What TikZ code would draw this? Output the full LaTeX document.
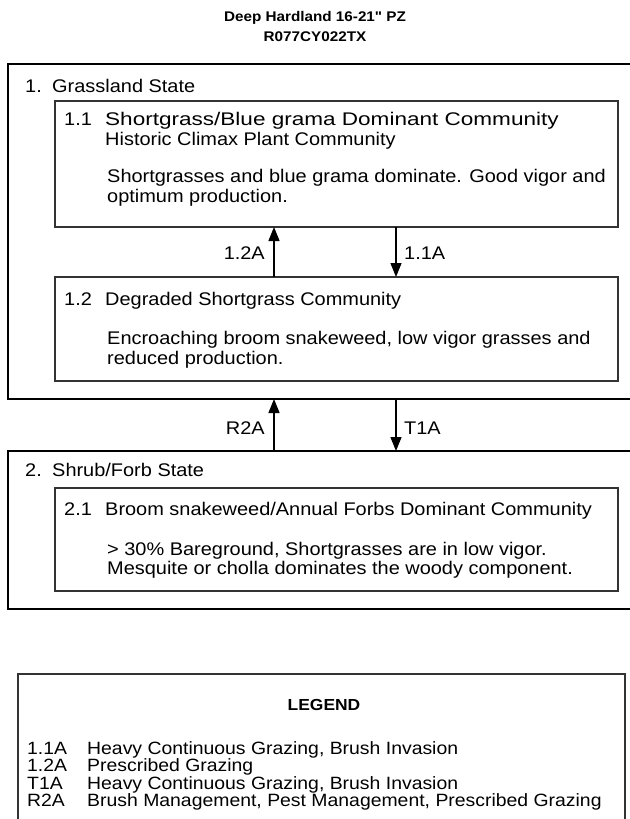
\documentclass[tikz,border=0pt]{standalone}
\usepackage{fontspec}
\setmainfont[FakeStretch=1.09]{Liberation Sans}
\newfontfamily\ttlfont[FakeStretch=1.09,Ligatures=TeXOff]{Liberation Sans}
\usetikzlibrary{arrows.meta}
\tikzset{
  outerbox/.style={draw=black, line width=2.6pt},
  innerbox/.style={draw=black!80, line width=1.3pt},
  legendbox/.style={draw=black!80, line width=1.3pt},
  txt/.style={anchor=base west, inner sep=0pt, font=\fontsize{18.3}{18.3}\selectfont},
  legtxt/.style={anchor=base west, inner sep=0pt, font=\fontsize{17.8}{17.8}\selectfont},
  ttl/.style={anchor=base, inner sep=0pt, font=\ttlfont\fontsize{14}{14}\selectfont\bfseries},
  lbl/.style={inner sep=0pt, font=\fontsize{18.3}{18.3}\selectfont},
  trans/.style={line width=1.4pt, -{Triangle[length=14pt,width=11pt]}},
}
\begin{document}
\begin{tikzpicture}[x=1pt,y=-1pt]
\useasboundingbox (0,0) rectangle (629,819);
% title
\node[ttl] (t1) at (315,21) {Deep Hardland 16-21" PZ};
\node[ttl] (t2) at (315,41) {R077CY022TX};
% state 1
\draw[outerbox] (8,64) rectangle (650,399);
\node[txt] (s1n) at (25,92) {1.};
\node[txt] (s1) at (52,92) {Grassland State};
\draw[innerbox] (55,101) rectangle (618,227);
\coordinate (c11a) at (274,227);
\coordinate (c11b) at (396,227);
\node[txt] (c11t) at (64,125) {1.1};
\node[txt] (c11n) at (105,125) {\scalebox{1.13}[1]{Shortgrass/Blue grama Dominant Community}};
\node[txt] (c11s) at (105,145) {Historic Climax Plant Community};
\node[txt] (c11d1) at (107,182) {Shortgrasses and blue grama dominate. Good vigor and};
\node[txt] (c11d2) at (107,202) {optimum production.};
\draw[innerbox] (55,277) rectangle (618,381);
\coordinate (c12a) at (274,277);
\coordinate (c12b) at (396,277);
\node[txt] (c12t) at (64,305) {1.2};
\node[txt] (c12n) at (105,305) {Degraded Shortgrass Community};
\node[txt] (c12d1) at (107,344) {Encroaching broom snakeweed, low vigor grasses and};
\node[txt] (c12d2) at (107,364) {reduced production.};
\draw[trans] (c12a) -- (c11a);
\draw[trans] (c11b) -- (c12b);
\node[lbl, anchor=base east] (l12a) at (265,259) {1.2A};
\node[lbl, anchor=base west] (l11a) at (404,259) {1.1A};
% state 2
\coordinate (s1a) at (274,399);
\coordinate (s1b) at (396,399);
\coordinate (s2a) at (274,451);
\coordinate (s2b) at (396,451);
\draw[trans] (s2a) -- (s1a);
\draw[trans] (s1b) -- (s2b);
\node[lbl, anchor=base east] (lr2a) at (265,434) {R2A};
\node[lbl, anchor=base west] (lt1a) at (404,434) {T1A};
\draw[outerbox] (8,451) rectangle (650,609);
\node[txt] (s2n) at (25,476) {2.};
\node[txt] (s2) at (52,476) {Shrub/Forb State};
\draw[innerbox] (55,488) rectangle (618,591);
\node[txt] (c21t) at (64,515) {2.1};
\node[txt] (c21n) at (105,515) {Broom snakeweed/Annual Forbs Dominant Community};
\node[txt] (c21d1) at (107,555) {> 30\% Bareground, Shortgrasses are in low vigor.};
\node[txt] (c21d2) at (107,574) {Mesquite or cholla dominates the woody component.};
% legend
\draw[legendbox] (18,674) rectangle (625,840);
\node[ttl, font=\fontsize{16}{16}\selectfont\bfseries] (leg) at (324,710) {LEGEND};
\node[legtxt] (k1) at (27,754) {1.1A};
\node[legtxt] (v1) at (87,754) {Heavy Continuous Grazing, Brush Invasion};
\node[legtxt] (k2) at (27,771) {1.2A};
\node[legtxt] (v2) at (87,771) {Prescribed Grazing};
\node[legtxt] (k3) at (27,789) {T1A};
\node[legtxt] (v3) at (87,789) {Heavy Continuous Grazing, Brush Invasion};
\node[legtxt] (k4) at (27,806) {R2A};
\node[legtxt] (v4) at (87,806) {Brush Management, Pest Management, Prescribed Grazing};
\end{tikzpicture}
\end{document}
